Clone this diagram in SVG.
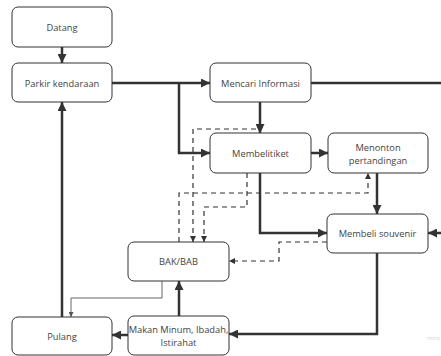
<svg xmlns="http://www.w3.org/2000/svg" width="441" height="356" viewBox="0 0 441 356">
<style>
.box{fill:#fff;stroke:#333;stroke-width:1}
.lbl{font-family:"Open Sans","Noto Sans",sans-serif;font-size:9.3px;fill:#444;text-anchor:middle;dominant-baseline:central}
.thick{fill:none;stroke:#333;stroke-width:2.5}
.dash{fill:none;stroke:#333;stroke-width:1.2;stroke-dasharray:5 4}
.thin{fill:none;stroke:#666;stroke-width:1}
</style>
<defs>
<marker id="ah" markerUnits="userSpaceOnUse" markerWidth="9" markerHeight="9" refX="9" refY="4.5" orient="auto"><path d="M0,0 L9,4.5 L0,9 z" fill="#333"/></marker>
<marker id="ad" markerUnits="userSpaceOnUse" markerWidth="6" markerHeight="6" refX="6" refY="3" orient="auto"><path d="M0,0 L6,3 L0,6 z" fill="#333"/></marker>
<marker id="ads" markerUnits="userSpaceOnUse" markerWidth="6" markerHeight="6" refX="0" refY="3" orient="auto"><path d="M6,0 L0,3 L6,6 z" fill="#333"/></marker>
<marker id="at" markerUnits="userSpaceOnUse" markerWidth="5" markerHeight="5" refX="5" refY="2.5" orient="auto"><path d="M0,0 L5,2.5 L0,5 z" fill="#555"/></marker>
</defs>
<g id="connectors">
<path class="thick" d="M62,47 V63" marker-end="url(#ah)"/>
<path class="thick" d="M112,83 H210" marker-end="url(#ah)"/>
<path class="thick" d="M179,83 V153 H210" marker-end="url(#ah)"/>
<path class="thick" d="M260,102 V133" marker-end="url(#ah)"/>
<path class="thick" d="M311,83 H441"/>
<path class="thick" d="M311,153 H328" marker-end="url(#ah)"/>
<path class="thick" d="M260,173 V233 H327" marker-end="url(#ah)"/>
<path class="thick" d="M377,173 V214" marker-end="url(#ah)"/>
<path class="thick" d="M441,233 H428" marker-end="url(#ah)"/>
<path class="thick" d="M377,253 V334 H229" marker-end="url(#ah)"/>
<path class="thick" d="M128,335 H112" marker-end="url(#ah)"/>
<path class="thick" d="M179,316 V281" marker-end="url(#ah)"/>
<path class="thick" d="M62,317 V102" marker-end="url(#ah)"/>
<path class="thin" d="M162,281 V298 H71 V317" marker-end="url(#at)"/>
<path class="dash" d="M193,242 V129 H260 V133" marker-start="url(#ads)" marker-end="url(#ad)"/>
<path class="dash" d="M179,242 V193 H368 V173" marker-end="url(#ad)"/>
<path class="dash" d="M247,173 V207 H204 V242" marker-end="url(#ad)"/>
<path class="dash" d="M327,242 H279 V261 H229" marker-end="url(#ad)"/>
</g>
<g id="datang"><rect class="box" x="12" y="7" width="100" height="40" rx="6"/><text class="lbl" x="62" y="27">Datang</text></g>
<g id="parkir"><rect class="box" x="12" y="63" width="100" height="39" rx="6"/><text class="lbl" x="62" y="83">Parkir kendaraan</text></g>
<g id="mencari"><rect class="box" x="210" y="63" width="101" height="39" rx="6"/><text class="lbl" x="260.5" y="83">Mencari Informasi</text></g>
<g id="membelitiket"><rect class="box" x="210" y="133" width="101" height="40" rx="6"/><text class="lbl" x="260.5" y="153">Membelitiket</text></g>
<g id="menonton"><rect class="box" x="328" y="133" width="100" height="40" rx="6"/><text class="lbl" x="378" y="147">Menonton</text><text class="lbl" x="378" y="160">pertandingan</text></g>
<g id="souvenir"><rect class="box" x="327" y="214" width="101" height="39" rx="6"/><text class="lbl" x="377.5" y="233.5">Membeli souvenir</text></g>
<g id="bak"><rect class="box" x="128" y="242" width="101" height="39" rx="6"/><text class="lbl" x="178.5" y="261.5">BAK/BAB</text></g>
<g id="pulang"><rect class="box" x="12" y="317" width="100" height="38" rx="6"/><text class="lbl" x="62" y="336">Pulang</text></g>
<g id="makan"><rect class="box" x="128" y="316" width="101" height="39" rx="6"/><text class="lbl" x="178.5" y="329.5">Makan Minum, Ibadah,</text><text class="lbl" x="178.5" y="342.5">Istirahat</text></g>
<text x="427" y="340" font-family="'Open Sans',sans-serif" font-size="6" fill="#d4d4d4">miro</text>
</svg>
